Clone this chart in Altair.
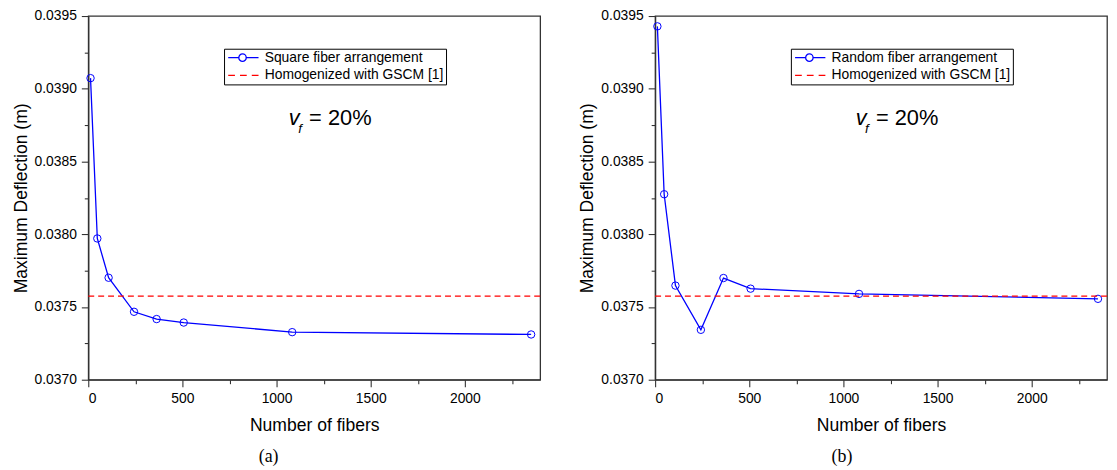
import altair as alt
import pandas as pd

# ---------------- data ----------------
n_fibers = [12, 48, 108, 243, 363, 507, 1083, 2352]
square_defl = [0.039073, 0.037971, 0.037701, 0.037467, 0.037417, 0.037393, 0.037327, 0.037311]
random_defl = [0.039429, 0.038275, 0.037647, 0.037343, 0.037699, 0.037626, 0.037590, 0.037556]
gscm_defl = [0.037574]

y_ticks = [0.037, 0.03725, 0.0375, 0.03775, 0.038, 0.03825, 0.0385, 0.03875, 0.039, 0.03925, 0.0395]
x_ticks = [0, 250, 500, 750, 1000, 1250, 1500, 1750, 2000, 2250]

label_sq = "Square fiber arrangement"
label_rnd = "Random fiber arrangement"
label_h = "Homogenized with GSCM [1]"

ann_n = [1065]
ann_d = [0.038752]

FONT = "Liberation Sans"
SERIF = "Liberation Serif"
BLUE = "#0000ff"
RED = "#ff0000"

# legend symbols: line with open circle, and dashed line
SYM_LINE_CIRCLE = "M-0.9,0L-0.27,0M0.17,0L0.9,0M0.17,0A0.22,0.22 0 1 1 -0.27,0A0.22,0.22 0 1 1 0.17,0"
SYM_DASH = "M-0.9,0L-0.5,0M-0.2,0L0.2,0M0.5,0L0.9,0"

major_y = "round(datum.value*20000) % 10 == 0"
major_x = "datum.value % 500 == 0"

axis_common = dict(
    domainColor="#333333", domainWidth=1.3, tickColor="#333333", tickWidth=1.1,
    labelFont=FONT, labelFontSize=14, labelColor="black", labelPadding=5,
    titleFont=FONT, titleFontSize=17.7, titleFontWeight="normal", titleColor="black",
    grid=False,
)

yaxis = alt.Axis(
    values=y_ticks,
    labelExpr=f"{major_y} ? format(datum.value, '.4f') : ''",
    tickSize={"condition": {"test": major_y, "value": 7}, "value": 4},
    titlePadding=4,
    **axis_common,
)
xaxis = alt.Axis(
    values=x_ticks,
    labelExpr=f"{major_x} ? format(datum.value, 'd') : ''",
    tickSize={"condition": {"test": major_x, "value": 7}, "value": 4},
    titlePadding=11,
    **axis_common,
)

legend_style = dict(
    strokeColor="black", fillColor="white", padding=1.5,
    symbolSize=1156, symbolStrokeWidth=1.3, symbolFillColor="transparent",
    labelFont=FONT, labelFontSize=14, labelColor="black", labelOffset=3.5,
    labelLimit=400, clipHeight=15, rowPadding=3,
)


def make_legend(lx):
    return alt.Legend(title=None, orient="none", legendX=lx, legendY=33, **legend_style)


def panel(series_label, defl, tag, tag_dx, lx):
    df = pd.DataFrame({"n": n_fibers, "d": defl, "series": series_label})
    dh = pd.DataFrame({"d": gscm_defl, "series": [label_h]})
    da = pd.DataFrame({"n": ann_n, "d": ann_d})

    leg = make_legend(lx)
    x = alt.X("n:Q", scale=alt.Scale(domain=[0, 2400], nice=False, zero=False),
              axis=xaxis, title="Number of fibers")
    y = alt.Y("d:Q", scale=alt.Scale(domain=[0.037, 0.0395], nice=False, zero=False),
              axis=yaxis, title="Maximum Deflection (m)")
    cscale = alt.Scale(domain=[series_label, label_h], range=[BLUE, RED])
    sscale = alt.Scale(domain=[series_label, label_h], range=[SYM_LINE_CIRCLE, SYM_DASH])
    color = alt.Color("series:N", scale=cscale, legend=leg)

    line = alt.Chart(df).mark_line(strokeWidth=1.3, opacity=1).encode(x=x, y=y, color=color)
    pts = alt.Chart(df).mark_point(size=56, strokeWidth=1, filled=False, opacity=1).encode(
        x=x, y=y, color=color)
    rule = alt.Chart(dh).mark_rule(strokeWidth=1.3, strokeDash=[6, 4], opacity=1).encode(
        y=y, color=color)
    shp = alt.Chart(df).transform_filter("false").mark_point(opacity=1).encode(
        x=x, y=y, shape=alt.Shape("series:N", scale=sscale, legend=leg))

    t_v = alt.Chart(da).mark_text(text="v", font=FONT, fontSize=22, fontStyle="italic",
                                  align="left", baseline="alphabetic", color="black").encode(x=x, y=y)
    t_f = alt.Chart(da).mark_text(text="f", font=FONT, fontSize=13.5, fontStyle="italic",
                                  align="left", baseline="alphabetic", dx=9.5, dy=8,
                                  color="black").encode(x=x, y=y)
    t_eq = alt.Chart(da).mark_text(text="= 20%", font=FONT, fontSize=22,
                                   align="left", baseline="alphabetic", dx=20.5,
                                   color="black").encode(x=x, y=y)

    return alt.layer(line, pts, rule, shp, t_v, t_f, t_eq).properties(
        width=456, height=367,
        title=alt.TitleParams(tag, orient="bottom", font=SERIF, fontSize=18,
                              fontWeight="normal", color="black", dx=tag_dx, offset=14),
    )


left = panel(label_sq, square_defl, "(a)", -46, 137)
right = panel(label_rnd, random_defl, "(b)", -39.5, 137)

chart = alt.hconcat(left, right, spacing=36).resolve_scale(
    color="independent", shape="independent"
).resolve_legend(
    color="independent", shape="independent"
).configure_view(
    stroke="#333333", strokeWidth=1.3
).configure_legend(
    **legend_style
).properties(
    padding={"left": 3, "top": -2, "right": 0, "bottom": 0}
)

chart.save("out.html", embed_options={"renderer": "svg", "actions": False})
